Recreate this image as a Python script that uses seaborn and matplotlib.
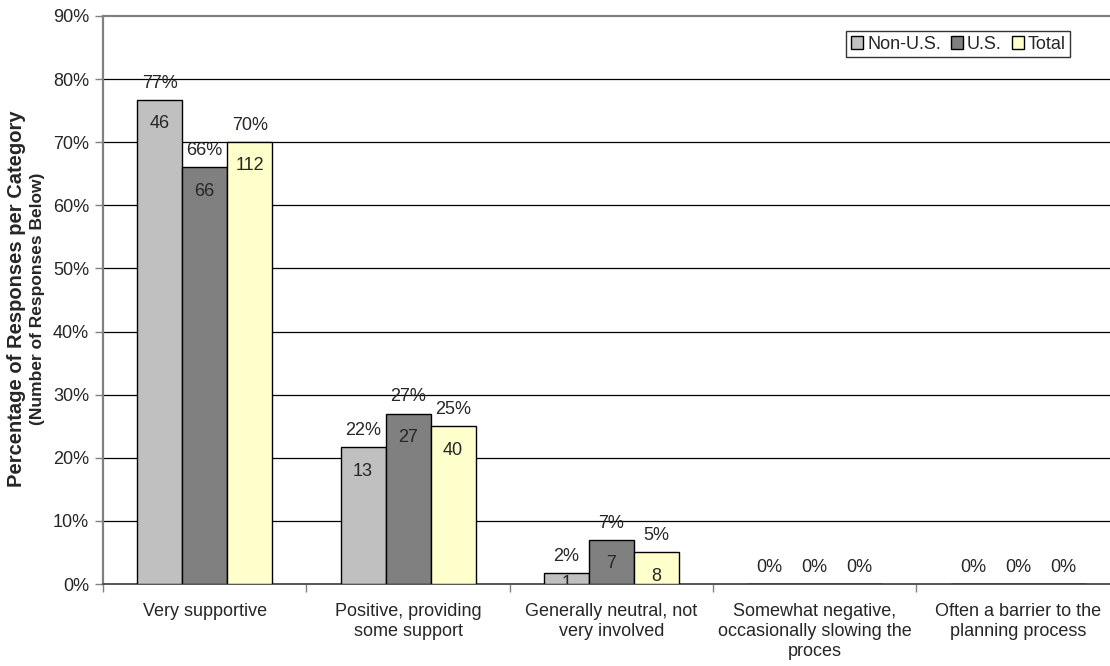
import numpy as np
import pandas as pd
import matplotlib
matplotlib.use("Agg")
import matplotlib.pyplot as plt
from matplotlib.ticker import FixedLocator, PercentFormatter
import seaborn as sns

# Survey answers per category
categories = [
    "Very supportive",
    "Positive, providing\nsome support",
    "Generally neutral, not\nvery involved",
    "Somewhat negative,\noccasionally slowing the\nproces",
    "Often a barrier to the\nplanning process",
]
series = ["Non-U.S.", "U.S.", "Total"]
non_us_counts = [46, 13, 1, 0, 0]
us_counts = [66, 27, 7, 0, 0]
total_counts = [112, 40, 8, 0, 0]
colors = ["#C0C0C0", "#808080", "#FFFFCC"]

counts = {"Non-U.S.": non_us_counts, "U.S.": us_counts, "Total": total_counts}

rows = []
for s in series:
    c = np.array(counts[s], dtype=float)
    pct = c / c.sum() * 100.0
    for cat, n, p in zip(categories, counts[s], pct):
        rows.append({"category": cat, "series": s, "count": n, "pct": p})
df = pd.DataFrame(rows)

sns.set_style("white")
plt.rcParams["font.family"] = ["Liberation Sans", "DejaVu Sans"]

FS = 13

fig = plt.figure(figsize=(11.10, 6.66), dpi=100)
ax = fig.add_axes([0.0928, 0.1231, 0.916, 0.8529])

sns.barplot(
    data=df, x="category", y="pct", hue="series", order=categories,
    hue_order=series, palette=colors, width=0.664, gap=0,
    edgecolor="black", linewidth=1.0, saturation=1, ax=ax, legend=True,
    zorder=3,
)

ax.set_ylim(0, 90)
ax.set_xlim(-0.5, len(categories) - 0.5)
ax.yaxis.set_major_locator(FixedLocator(np.arange(0, 91, 10)))
ax.yaxis.set_major_formatter(PercentFormatter(decimals=0))
for v in range(10, 90, 10):
    ax.axhline(v, color="black", lw=0.9, zorder=1)

for side in ["top", "right"]:
    ax.spines[side].set_visible(False)
ax.axhline(90, color="#808080", lw=1.6, zorder=1, clip_on=False)
ax.spines["left"].set_color("#808080")
ax.spines["left"].set_linewidth(1.6)
ax.spines["bottom"].set_color("#555555")
ax.spines["bottom"].set_linewidth(1.4)

ax.tick_params(axis="y", which="major", length=6, width=1, color="#808080",
               labelsize=FS, pad=4, left=True)
ax.set_xticks(range(len(categories)))
ax.set_xticklabels(categories, fontsize=FS, linespacing=1.2)
ax.tick_params(axis="x", which="major", length=0, pad=14)
ax.set_xticks(np.arange(-0.5, len(categories) + 0.5, 1), minor=True)
ax.tick_params(axis="x", which="minor", length=6, width=1, color="#808080",
               bottom=True)
ax.set_xlabel("")
ax.set_ylabel("")

# Value labels: percentage above each bar, response count inside near its top
ax_h_px = ax.get_position().height * fig.get_figheight() * fig.dpi
for s, cont in zip(series, ax.containers):
    sub = df[df["series"] == s].set_index("category").loc[categories]
    for bar, (_, r) in zip(cont.patches, sub.iterrows()):
        xc = bar.get_x() + bar.get_width() / 2
        top = bar.get_height()
        ax.annotate(f"{r['pct']:.0f}%", (xc, top), xytext=(0, 6),
                    textcoords="offset points", ha="center", va="bottom",
                    fontsize=FS, zorder=5)
        if r["count"] > 0:
            bar_px = top / 90 * ax_h_px
            dy = -11 if bar_px > 30 else -1
            ax.annotate(f"{r['count']}", (xc, top), xytext=(0, dy),
                        textcoords="offset points", ha="center", va="top",
                        fontsize=FS, zorder=5, annotation_clip=True,
                        clip_on=True)

leg = ax.legend(loc="upper right", bbox_to_anchor=(0.9515, 0.9735),
                ncol=3, frameon=True, fontsize=FS, handlelength=0.7,
                handleheight=0.7, handletextpad=0.2, columnspacing=0.55,
                borderpad=0.25, borderaxespad=0, fancybox=False)
leg.get_frame().set_edgecolor("black")
leg.get_frame().set_linewidth(1.0)
for h in leg.legend_handles:
    h.set_edgecolor("black")
    h.set_linewidth(1.0)

fig.text(0.0145, 0.552, "Percentage of Responses per Category", rotation=90,
         ha="center", va="center", fontsize=14.5, fontweight="bold")
fig.text(0.0335, 0.552, "(Number of Responses Below)", rotation=90,
         ha="center", va="center", fontsize=12.5, fontweight="bold")

fig.savefig("out.png", dpi=100)
